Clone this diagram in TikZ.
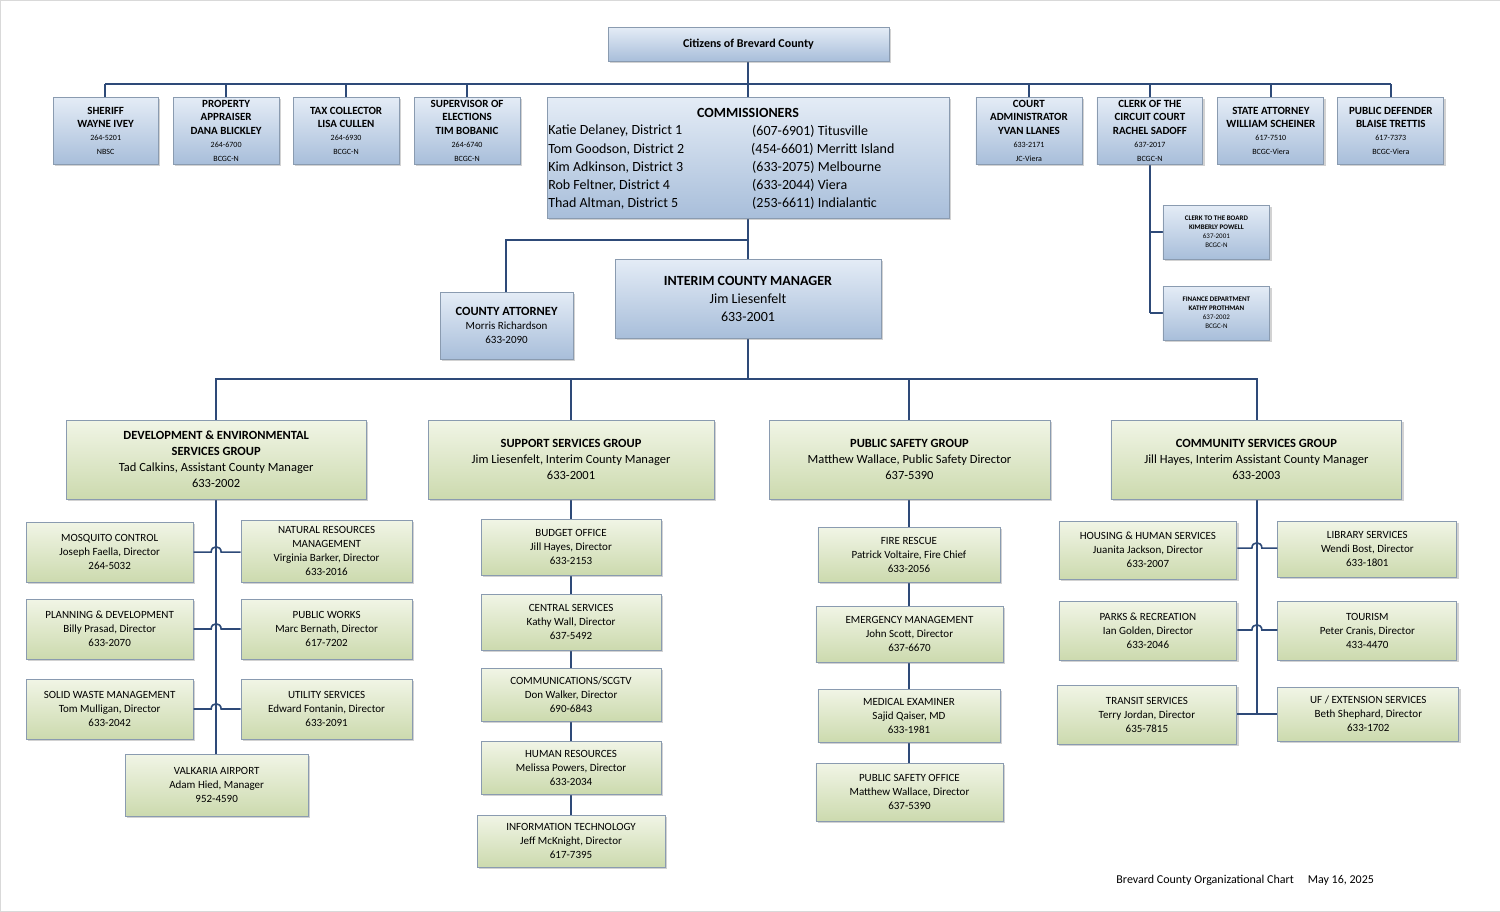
\documentclass[tikz,border=0pt]{standalone}
\usepackage{fontspec}
\setmainfont{Carlito}
\usetikzlibrary{shadows}
\definecolor{ln}{HTML}{2E4A78}
\definecolor{bt}{HTML}{E4ECF6}
\definecolor{bb}{HTML}{A8BEDA}
\definecolor{gt}{HTML}{F1F5E6}
\definecolor{gb}{HTML}{CCDAAE}
\definecolor{bd}{HTML}{8A9BB0}
\newcommand{\bx}[7]{\node[#6, minimum width={(#4-#2)*1pt}, minimum height={(#5-#3)*1pt}] (#1) at ({(#2+#4)/2},{(#3+#5)/2}) {#7};}
\newcommand{\ssz}{\fontsize{8}{9.5}\selectfont}
\newcommand{\xsz}{\fontsize{7}{9}\selectfont}
\newcommand{\hop}[4]{\draw[con] (#1.east |- 0,#3) -- (#4-5,#3) .. controls (#4-5,#3-7) and (#4+5,#3-7) .. (#4+5,#3) -- (#2.west |- 0,#3);}
\begin{document}
\begin{tikzpicture}[x=1pt,y=-1pt,
 basebox/.style={draw=bd, line width=0.8pt, inner sep=1pt, align=center, font=\fontsize{11}{14}\selectfont,
   drop shadow={shadow xshift=2pt, shadow yshift=-2pt, opacity=0.35}},
 bbox/.style={basebox, top color=bt, bottom color=bb},
 gbox/.style={basebox, top color=gt, bottom color=gb},
 con/.style={draw=ln, line width=1.6pt},
 tb/.style={font=\fontsize{11}{13.5}\selectfont\bfseries},
 grp/.style={gbox, font=\fontsize{12.5}{16}\selectfont},
 comm/.style={anchor=west, inner sep=0pt, font=\fontsize{14}{16}\selectfont}]
\draw[gray!30, fill=white] (0,0) rectangle (1500,911);
\useasboundingbox (0,0) rectangle (1500,911);
% ---------- connectors ----------
\coordinate (bl) at (105,84); \coordinate (br) at (1391,84);
\draw[con] (bl) -- (br);
\draw[con] (748,61) -- (748,97);
\foreach \x in {105,226,346,467,1029,1150,1271,1391} \draw[con] (\x,84) -- (\x,97);
\draw[con] (748,218) -- (748,259);
\draw[con] (748,240) -- (506,240) -- (506,292);
\draw[con] (1150,164) -- (1150,313);
\draw[con] (1150,232) -- (1163,232);
\draw[con] (1150,313) -- (1163,313);
\draw[con] (748,338) -- (748,379);
\draw[con] (216,420) -- (216,379) -- (1257,379) -- (1257,420);
\draw[con] (571,379) -- (571,420);
\draw[con] (909,379) -- (909,420);
\draw[con] (216,499) -- (216,754);
\draw[con] (571,499) -- (571,815);
\draw[con] (909,499) -- (909,763);
\draw[con] (1257,499) -- (1257,715);
% ---------- top row ----------
\bx{cit}{608}{27}{889}{61}{bbox,font=\fontsize{12}{14}\selectfont\bfseries}{Citizens of Brevard County}
\bx{sh}{53}{97}{158}{164}{bbox,tb}{SHERIFF\\WAYNE IVEY\\{\mdseries\ssz 264-5201}\\{\mdseries\ssz NBSC}}
\bx{pa}{173}{97}{279}{164}{bbox,tb}{PROPERTY\\APPRAISER\\DANA BLICKLEY\\{\mdseries\ssz 264-6700}\\{\mdseries\ssz BCGC-N}}
\bx{tc}{293}{97}{399}{164}{bbox,tb}{TAX COLLECTOR\\LISA CULLEN\\{\mdseries\ssz 264-6930}\\{\mdseries\ssz BCGC-N}}
\bx{se}{414}{97}{520}{164}{bbox,tb}{SUPERVISOR OF\\ELECTIONS\\TIM BOBANIC\\{\mdseries\ssz 264-6740}\\{\mdseries\ssz BCGC-N}}
\bx{ca}{976}{97}{1082}{164}{bbox,tb}{COURT\\ADMINISTRATOR\\YVAN LLANES\\{\mdseries\ssz 633-2171}\\{\mdseries\ssz JC-Viera}}
\bx{cl}{1097}{97}{1203}{164}{bbox,tb}{CLERK OF THE\\CIRCUIT COURT\\RACHEL SADOFF\\{\mdseries\ssz 637-2017}\\{\mdseries\ssz BCGC-N}}
\bx{sa}{1218}{97}{1324}{164}{bbox,tb}{STATE ATTORNEY\\WILLIAM SCHEINER\\{\mdseries\ssz 617-7510}\\{\mdseries\ssz BCGC-Viera}}
\bx{pd}{1338}{97}{1444}{164}{bbox,tb}{PUBLIC DEFENDER\\BLAISE TRETTIS\\{\mdseries\ssz 617-7373}\\{\mdseries\ssz BCGC-Viera}}
\bx{ctb}{1163}{205}{1270}{259}{bbox,font=\xsz}{\textbf{CLERK TO THE BOARD}\\\textbf{KIMBERLY POWELL}\\637-2001\\BCGC-N}
\bx{fin}{1163}{286}{1270}{340}{bbox,font=\xsz}{\textbf{FINANCE DEPARTMENT}\\\textbf{KATHY PROTHMAN}\\637-2002\\BCGC-N}
% commissioners
\bx{com}{547}{97}{949}{218}{bbox}{}
\node[font=\fontsize{14}{16}\selectfont\bfseries] (comt) at (748,113) {COMMISSIONERS};
\node[comm] (c1) at (548,131) {Katie Delaney, District 1};
\node[comm] (c2) at (548,149) {Tom Goodson, District 2};
\node[comm] (c3) at (548,167) {Kim Adkinson, District 3};
\node[comm] (c4) at (548,185) {Rob Feltner, District 4};
\node[comm] (c5) at (548,203) {Thad Altman, District 5};
\node[comm] (p1) at (752,131) {(607-6901) Titusville};
\node[comm] (p2) at (751,149) {(454-6601) Merritt Island};
\node[comm] (p3) at (752,167) {(633-2075) Melbourne};
\node[comm] (p4) at (752,185) {(633-2044) Viera};
\node[comm] (p5) at (752,203) {(253-6611) Indialantic};
% managers
\bx{att}{440}{292}{573}{359}{bbox}{{\fontsize{12.5}{15}\selectfont\bfseries COUNTY ATTORNEY}\\Morris Richardson\\633-2090}
\bx{icm}{615}{259}{881}{338}{bbox,font=\fontsize{14}{18}\selectfont}{\textbf{INTERIM COUNTY MANAGER}\\Jim Liesenfelt\\633-2001}
% groups
\bx{dev}{66}{420}{366}{499}{grp}{\textbf{DEVELOPMENT \& ENVIRONMENTAL}\\\textbf{SERVICES GROUP}\\Tad Calkins, Assistant County Manager\\633-2002}
\bx{sup}{428}{420}{714}{499}{grp}{\textbf{SUPPORT SERVICES GROUP}\\Jim Liesenfelt, Interim County Manager\\633-2001}
\bx{ps}{769}{420}{1050}{499}{grp}{\textbf{PUBLIC SAFETY GROUP}\\Matthew Wallace, Public Safety Director\\637-5390}
\bx{cs}{1111}{420}{1402}{499}{grp}{\textbf{COMMUNITY SERVICES GROUP}\\Jill Hayes, Interim Assistant County Manager\\633-2003}
% development children
\bx{mos}{26}{522}{193}{582}{gbox}{MOSQUITO CONTROL\\Joseph Faella, Director\\264-5032}
\bx{pla}{26}{599}{193}{659}{gbox}{PLANNING \& DEVELOPMENT\\Billy Prasad, Director\\633-2070}
\bx{sol}{26}{679}{193}{739}{gbox}{SOLID WASTE MANAGEMENT\\Tom Mulligan, Director\\633-2042}
\bx{nat}{241}{520}{412}{582}{gbox}{NATURAL RESOURCES\\MANAGEMENT\\Virginia Barker, Director\\633-2016}
\bx{pw}{241}{599}{412}{659}{gbox}{PUBLIC WORKS\\Marc Bernath, Director\\617-7202}
\bx{uti}{241}{679}{412}{739}{gbox}{UTILITY SERVICES\\Edward Fontanin, Director\\633-2091}
\bx{val}{125}{754}{308}{816}{gbox}{VALKARIA AIRPORT\\Adam Hied, Manager\\952-4590}
\hop{mos}{nat}{552}{216}
\hop{pla}{pw}{629}{216}
\hop{sol}{uti}{709}{216}
% support children
\bx{bud}{481}{519}{661}{575}{gbox}{BUDGET OFFICE\\Jill Hayes, Director\\633-2153}
\bx{cen}{481}{594}{661}{650}{gbox}{CENTRAL SERVICES\\Kathy Wall, Director\\637-5492}
\bx{cmm}{481}{668}{661}{721}{gbox}{COMMUNICATIONS/SCGTV\\Don Walker, Director\\690-6843}
\bx{hr}{481}{741}{661}{794}{gbox}{HUMAN RESOURCES\\Melissa Powers, Director\\633-2034}
\bx{it}{477}{815}{665}{867}{gbox}{INFORMATION TECHNOLOGY\\Jeff McKnight, Director\\617-7395}
% public safety children
\bx{fire}{818}{527}{1000}{582}{gbox}{FIRE RESCUE\\Patrick Voltaire, Fire Chief\\633-2056}
\bx{em}{816}{606}{1003}{662}{gbox}{EMERGENCY MANAGEMENT\\John Scott, Director\\637-6670}
\bx{me}{818}{689}{1000}{742}{gbox}{MEDICAL EXAMINER\\Sajid Qaiser, MD\\633-1981}
\bx{pso}{816}{763}{1003}{821}{gbox}{PUBLIC SAFETY OFFICE\\Matthew Wallace, Director\\637-5390}
% community children
\bx{hou}{1059}{521}{1237}{579}{gbox}{HOUSING \& HUMAN SERVICES\\Juanita Jackson, Director\\633-2007}
\bx{par}{1059}{601}{1237}{660}{gbox}{PARKS \& RECREATION\\Ian Golden, Director\\633-2046}
\bx{tra}{1057}{685}{1237}{744}{gbox}{TRANSIT SERVICES\\Terry Jordan, Director\\635-7815}
\bx{lib}{1278}{521}{1457}{577}{gbox}{LIBRARY SERVICES\\Wendi Bost, Director\\633-1801}
\bx{tou}{1278}{601}{1457}{660}{gbox}{TOURISM\\Peter Cranis, Director\\433-4470}
\bx{uf}{1278}{687}{1459}{741}{gbox}{UF / EXTENSION SERVICES\\Beth Shephard, Director\\633-1702}
\hop{hou}{lib}{548}{1257}
\hop{par}{tou}{630}{1257}
\draw[con] (tra.east |- 0,714) -- (uf.west |- 0,714);
% footer
\node[anchor=west, font=\fontsize{12}{14}\selectfont] (foot) at (1113,880) {Brevard County Organizational Chart\hspace{14pt}May 16, 2025};
\end{tikzpicture}
\end{document}
